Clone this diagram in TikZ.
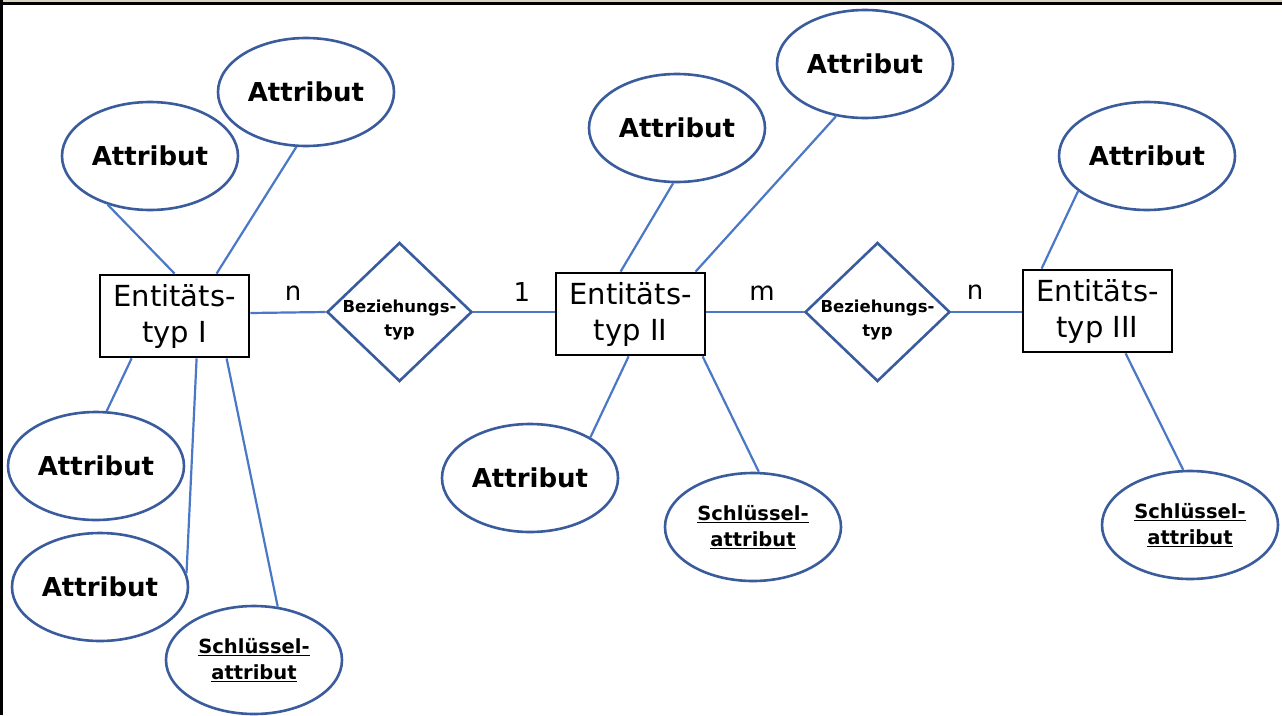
\documentclass[tikz,border=0pt]{standalone}
\usepackage{fontspec}
\setmainfont{DejaVu Sans}
\usetikzlibrary{shapes.geometric}
\definecolor{ellblue}{HTML}{3A5C9C}
\definecolor{linkblue}{HTML}{4A78C6}
\definecolor{topbeige}{HTML}{D8D2C0}
\begin{document}
\begin{tikzpicture}[x=1pt,y=-1pt,
 attr/.style={ellipse, draw=ellblue, line width=2.6pt, minimum width=176pt, minimum height=108pt, inner sep=0pt, font=\bfseries\fontsize{26}{30}\selectfont},
 keyattr/.style={attr, align=center, font=\bfseries\fontsize{19.5}{26}\selectfont},
 ent/.style={rectangle, draw=black, line width=2.8pt, minimum width=149pt, minimum height=82pt, inner sep=0pt, align=center, font=\fontsize{29}{36}\selectfont},
 rel/.style={diamond, draw=ellblue, line width=2.6pt, minimum width=145pt, minimum height=139pt, inner sep=0pt},
 reltext/.style={align=center, inner sep=0pt, font=\bfseries\fontsize{16.5}{24}\selectfont},
 link/.style={draw=linkblue, line width=2.2pt},
 card/.style={inner sep=0pt, font=\fontsize{26}{28}\selectfont}
]
\useasboundingbox (0,0) rectangle (1282,715);
\fill[white] (0,0) rectangle (1282,715);
\fill[topbeige] (0,0) rectangle (1282,2);
\fill[black] (0,2) rectangle (1282,4.5);
\fill[black] (0,0) rectangle (3,715);

% entities
\node[ent] (E1) at (174.5,316) {Entitäts-\\typ I};
\node[ent] (E2) at (630.5,314) {Entitäts-\\typ II};
\node[ent] (E3) at (1097.5,311) {Entitäts-\\typ III};

% relationships
\node[rel] (D1) at (399.5,312) {};
\node[reltext] (T1) at ([yshift=-8pt]D1.center) {Beziehungs-\\typ};
\node[rel] (D2) at (877.5,312) {};
\node[reltext] (T2) at ([yshift=-8pt]D2.center) {Beziehungs-\\typ};

% attributes
\node[attr] (A1) at (150,156) {Attribut};
\node[attr] (A2) at (306,92) {Attribut};
\node[attr] (A3) at (677,128) {Attribut};
\node[attr] (A4) at (865,64) {Attribut};
\node[attr] (A5) at (1147,156) {Attribut};
\node[attr] (A6) at (96,466) {Attribut};
\node[attr] (A7) at (100,587) {Attribut};
\node[keyattr] (A8) at (254,660) {\underline{Schlüssel-}\\\underline{attribut}};
\node[attr] (A9) at (530,478) {Attribut};
\node[keyattr] (A10) at (753,527) {\underline{Schlüssel-}\\\underline{attribut}};
\node[keyattr] (A11) at (1190,525) {\underline{Schlüssel-}\\\underline{attribut}};

% links
\draw[link] (A1.229) -- ([xshift=76pt]E1.north west);
\draw[link] (A2.260) -- ([xshift=118pt]E1.north west);
\draw[link] ([xshift=33pt]E1.south west) -- (A6.79);
\draw[link] ([xshift=98pt]E1.south west) -- (A7.9);
\draw[link] ([xshift=128pt]E1.south west) -- (A8.66);
\draw[link] (A3.266) -- ([xshift=66pt]E2.north west);
\draw[link] (A4.241) -- ([xshift=141pt]E2.north west);
\draw[link] ([xshift=74pt]E2.south west) -- (A9.34);
\draw[link] ([xshift=148pt]E2.south west) -- (A10.84);
\draw[link] (A5.207) -- ([xshift=20pt]E3.north west);
\draw[link] ([xshift=104pt]E3.south west) -- (A11.97);

\draw[link] ([yshift=-1pt]E1.east |- D1.west) -- (D1.west);
\draw[link] (D1.east) -- (E2.west |- D1.east);
\draw[link] (E2.east |- D2.west) -- (D2.west);
\draw[link] (D2.east) -- (E3.west |- D2.east);

% cardinalities
\node[card] (c1) at (293,293) {n};
\node[card] (c2) at (522,292) {1};
\node[card] (c3) at (762,293) {m};
\node[card] (c4) at (975,292) {n};
\end{tikzpicture}
\end{document}
